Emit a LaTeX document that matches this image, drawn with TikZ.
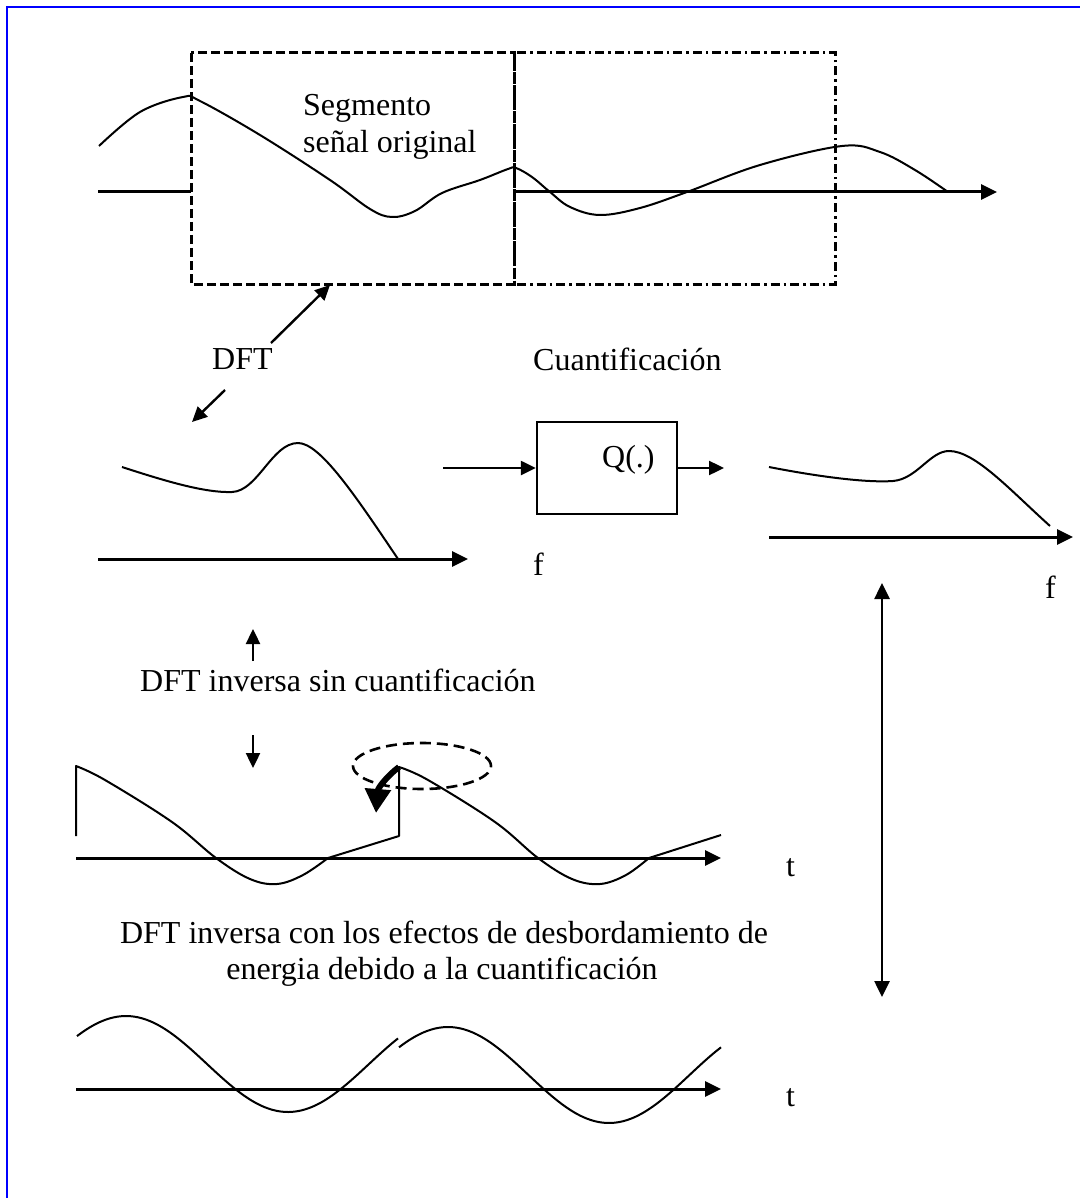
\documentclass[tikz,border=0pt]{standalone}
\usepackage{fontspec}
\setmainfont{Liberation Serif}
\usetikzlibrary{arrows.meta}
\begin{document}
\begin{tikzpicture}[x=1pt,y=-1pt,
  every node/.style={font=\fontsize{32}{37}\selectfont, inner sep=0pt},
  axisline/.style={line width=3pt},
  axis/.style={line width=3pt, -{Triangle[length=16pt,width=15pt]}},
  sig/.style={line width=2pt, line join=round},
  arr/.style={line width=2.4pt, -{Triangle[length=15pt,width=14pt]}},
  dbarr/.style={line width=2.6pt, {Triangle[length=16pt,width=15pt]}-{Triangle[length=16pt,width=15pt]}},
  dbox/.style={line width=3pt, dash pattern=on 9pt off 4pt},
  ddbox/.style={line width=3pt, dash pattern=on 9pt off 4pt on 2.5pt off 4pt},
  lbl/.style={anchor=base west}]
\useasboundingbox (0,0) rectangle (1080,1198);
\fill[white] (0,0) rectangle (1080,1198);
% blue frame
\draw[blue, line width=2.6pt] (7,1198) -- (7,7) -- (1080,7);

% ---------- top: original signal ----------
\draw[dbox] (191,53) rectangle (514,284);
\draw[ddbox] (514,53) rectangle (835,284);
\coordinate (ax0a) at (98,192);
\coordinate (ax0b) at (191,192);
\coordinate (ax0c) at (514,192);
\coordinate (ax0d) at (997,192);
\draw[axisline] (ax0a) -- (ax0b);
\draw[axis] (ax0c) -- (ax0d);
\draw[sig] plot[smooth, tension=0.6] coordinates {(99,146) (140,112) (183,97) (200,101) (260,135) (330,180) (370,209) (392,217) (415,211) (442,193) (480,180) (508,169) (516,168) (532,177) (550,192) (570,207) (600,215) (640,208) (687,192) (760,165) (842,146) (880,152) (915,170) (948,192)};
\node[lbl] (seg1) at (303,116) {Segmento};
\node[lbl] (seg2) at (303,153) {señal original};

% DFT arrows
\node[lbl] (dft) at (212,369) {DFT};
\coordinate (dft1s) at (271,343);
\coordinate (dft1e) at (330,285);
\draw[arr] (dft1s) -- (dft1e);
\coordinate (dft2s) at (225,390);
\coordinate (dft2e) at (192,422);
\draw[arr] (dft2s) -- (dft2e);

% ---------- spectrum 1 ----------
\coordinate (ax1a) at (98,559);
\coordinate (ax1b) at (468,559);
\draw[axis] (ax1a) -- (ax1b);
\draw[sig] (122,467) .. controls (165,481) and (205,493) .. (232,492)
  .. controls (258,491) and (272,443) .. (298,443)
  .. controls (320,443) and (355,495) .. (398,559);
\node[lbl] (f1) at (533,575) {f};

% quantizer
\node[lbl] (cuant) at (533,370) {Cuantificación};
\node[draw, line width=2.4pt, minimum width=140pt, minimum height=92pt] (q) at (607,468) {};
\node[lbl] (qlbl) at (602,467) {Q(.)};
\coordinate (qin) at (443,468);
\coordinate (qout) at (724,468);
\draw[arr] (qin) -- (q.west);
\draw[arr] (q.east) -- (qout);

% ---------- spectrum 2 ----------
\coordinate (ax2a) at (769,537);
\coordinate (ax2b) at (1073,537);
\draw[axis] (ax2a) -- (ax2b);
\draw[sig] (769,467) .. controls (815,476) and (865,483) .. (893,481)
  .. controls (917,479) and (930,451) .. (949,451)
  .. controls (975,451) and (1010,490) .. (1050,526);
\node[lbl] (f2) at (1045,598) {f};

% vertical double arrow
\coordinate (vA) at (882,583);
\coordinate (vB) at (882,997);
\draw[dbarr] (vA) -- (vB);

% ---------- inverse DFT without quantization ----------
\coordinate (upS) at (253,661);
\coordinate (upE) at (253,629);
\draw[arr] (upS) -- (upE);
\node[lbl] (inv1) at (140,691) {DFT inversa sin cuantificación};
\coordinate (dnS) at (253,735);
\coordinate (dnE) at (253,768);
\draw[arr] (dnS) -- (dnE);

\coordinate (ax3a) at (76,858);
\coordinate (ax3b) at (721,858);
\draw[axis] (ax3a) -- (ax3b);
\draw[sig] (76,836) -- (76,766) -- plot[smooth, tension=0.6] coordinates {(76,766) (105,780) (172,822) (216,858) (250,879) (277,884) (303,875) (328,858)} -- (399,836) -- (399,767) -- plot[smooth, tension=0.6] coordinates {(399,767) (428,780) (495,822) (538,858) (572,879) (600,884) (626,875) (649,858)} -- (721,835);
\draw[line width=2.6pt, dash pattern=on 11pt off 6pt] (422,766) ellipse [x radius=69pt, y radius=23pt];
\coordinate (thS) at (399,767);
\coordinate (thE) at (376,813);
\draw[line width=6pt, -{Triangle[length=24pt,width=25pt]}] (thS) .. controls (387,776) and (378,788) .. (thE);
\node[lbl] (t1) at (786,876) {t};

% ---------- inverse DFT with quantization ----------
\node[anchor=base] (inv2a) at (444,943) {DFT inversa con los efectos de desbordamiento de};
\node[anchor=base] (inv2b) at (442,979) {energia debido a la cuantificación};

\coordinate (ax4a) at (76,1089);
\coordinate (ax4b) at (721,1089);
\draw[axis] (ax4a) -- (ax4b);
\draw[sig] plot[domain=77:398, samples=80, smooth] (\x, {1064-48*cos(deg(2*pi*(\x-126)/324))});
\draw[sig] plot[domain=399:721, samples=80, smooth] (\x, {1075-48*cos(deg(2*pi*(\x-448)/322))});
\node[lbl] (t2) at (786,1106) {t};
\end{tikzpicture}
\end{document}
